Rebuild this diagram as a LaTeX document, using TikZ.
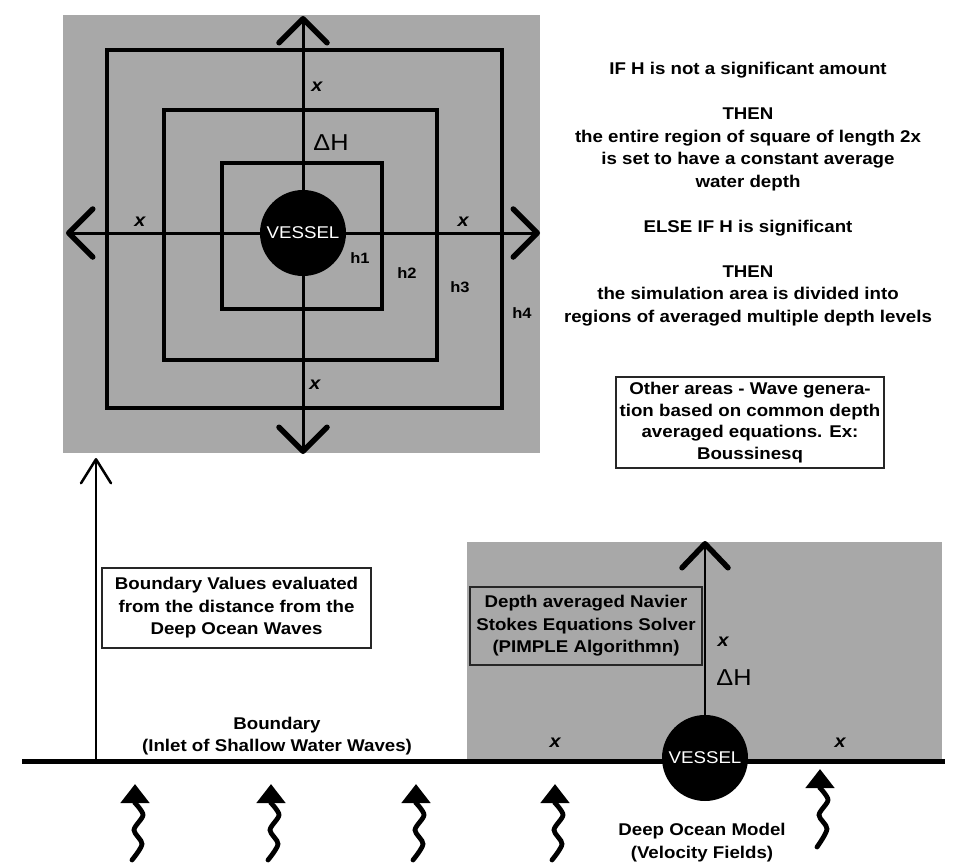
\documentclass[tikz,border=0pt]{standalone}
\usepackage{fontspec}
\setmainfont[FakeStretch=1.1]{Liberation Sans}
\usetikzlibrary{arrows.meta}
\definecolor{stipple}{gray}{0.66}
\begin{document}
\begin{tikzpicture}[x=1pt,y=-1pt,
  every node/.style={inner sep=0pt, font=\fontsize{17}{22.5}\selectfont\bfseries},
  sq/.style={line width=3.3pt, line join=miter},
  axis/.style={line width=3pt, -{Straight Barb[length=24pt,width=48pt,line width=5.5pt,round]}},
  thinax/.style={line width=2pt, -{Straight Barb[length=24pt,width=30pt,line width=2.5pt,round]}},
  upax/.style={line width=2.5pt, -{Straight Barb[length=24pt,width=46pt,line width=5.5pt,round]}},
  vessel/.style={circle, fill=black, minimum size=86pt, text=white, font=\fontsize{17}{17}\selectfont},
  xl/.style={font=\fontsize{18}{18}\selectfont\bfseries\itshape},
  hl/.style={font=\fontsize{15}{15}\selectfont\bfseries},
  dh/.style={font=\fontsize{23}{23}\selectfont},
  tbox/.style={draw=black!85, line width=1.5pt, align=center},
  wave/.style={line width=4.8pt, line cap=round, -{Triangle[length=19pt,width=28pt]}}
]
\useasboundingbox (0,0) rectangle (953,862);

% ---------- top plan view ----------
\fill[stipple] (63,15) rectangle (540,453);
\draw[sq] (107,50) rectangle (502,408);
\draw[sq] (164,110) rectangle (437,360);
\draw[sq] (222,163) rectangle (382,309);

\node[vessel] (v1) at (303,233) {VESSEL};
\coordinate (tT) at (303,16);
\coordinate (tB) at (303,454);
\coordinate (tL) at (66,233);
\coordinate (tR) at (540,233);
\draw[axis] (v1.north) -- (tT);
\draw[axis] (v1.south) -- (tB);
\draw[axis] (v1.west) -- (tL);
\draw[axis] (v1.east) -- (tR);

\node[xl] (xt) at (317,87) {x};
\node[xl] (xlft) at (140,222) {x};
\node[xl] (xrt) at (463,222) {x};
\node[xl] (xb) at (315,385) {x};
\node[dh] (dh1) at (331,143) {ΔH};
\node[hl] (h1) at (360,258) {h1};
\node[hl] (h2) at (407,273) {h2};
\node[hl] (h3) at (460,287) {h3};
\node[hl] (h4) at (522,313) {h4};

% ---------- right text ----------
\node[align=center] (rules) at (748,194) {IF H is not a significant amount\\[22.5pt]
THEN\\
the entire region of square of length 2x\\
is set to have a constant average\\
water depth\\[22.5pt]
ELSE IF H is significant\\[22.5pt]
THEN\\
the simulation area is divided into\\
regions of averaged multiple depth levels};

\node[tbox, fill=white, minimum width=268pt, minimum height=91pt,
      font=\fontsize{17}{21.7}\selectfont\bfseries] (other) at (750,422.5)
  {Other areas - Wave genera-\\tion based on common depth\\averaged equations. Ex:\\Boussinesq};

% ---------- bottom section view ----------
\fill[stipple] (467,542) rectangle (942,761);

\coordinate (bl) at (22,761);
\coordinate (br) at (945,761);
\draw[line width=5pt] (bl) -- (br);

\coordinate (la0) at (96,761);
\coordinate (la1) at (96,458);
\draw[thinax] (la0) -- (la1);

\node[tbox, fill=white, minimum width=269pt, minimum height=80pt] (bv) at (236.5,608)
  {Boundary Values evaluated\\from the distance from the\\Deep Ocean Waves};

\node[align=center] (bd) at (277,736) {Boundary\\(Inlet of Shallow Water Waves)};

\node[tbox, minimum width=232pt, minimum height=78pt] (ns) at (586,626)
  {Depth averaged Navier\\Stokes Equations Solver\\(PIMPLE Algorithmn)};

\node[vessel] (v2) at (705,758) {VESSEL};
\coordinate (t2) at (705,541);
\draw[upax] (v2.north) -- (t2);

\node[xl] (x4) at (723,642) {x};
\node[xl] (x5) at (555,743) {x};
\node[xl] (x6) at (840,743) {x};
\node[dh] (dh2) at (734,678) {ΔH};

\node[align=center] (dom) at (702,842.5) {Deep Ocean Model\\(Velocity Fields)};

% wavy arrows
\foreach \px/\py/\pe in {135/803/57, 271/803/57, 416/803/57, 555/803/57, 820/788/59} {
  \draw[wave] plot[smooth] coordinates {(\px-3,\py+\pe) (\px+7,\py+41) (\px-1,\py+27) (\px+8,\py+12) (\px,\py)} -- (\px,\py-19);
}
\end{tikzpicture}
\end{document}
